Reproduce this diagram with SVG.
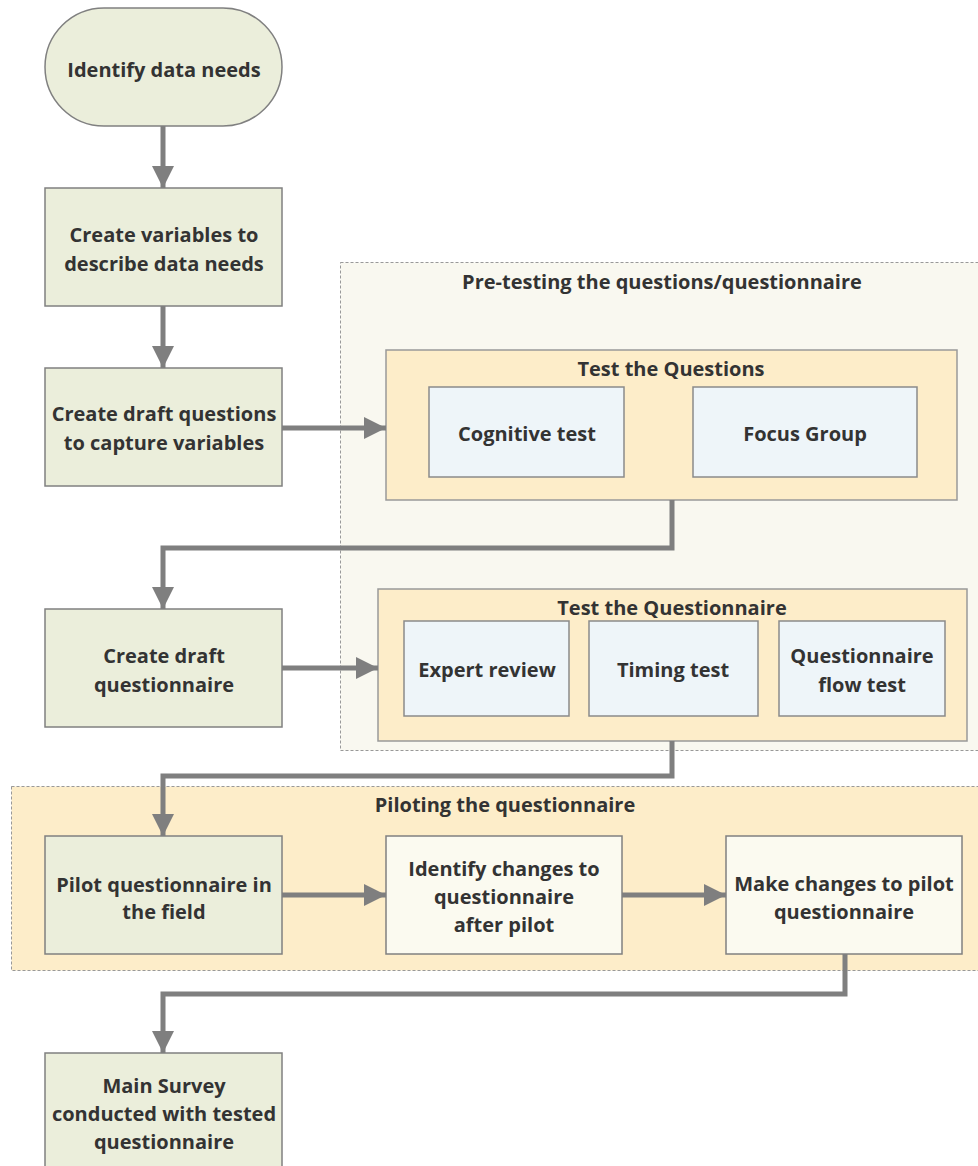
<svg xmlns="http://www.w3.org/2000/svg" width="978" height="1166" viewBox="0 0 978 1166">
<style>
text{font-family:"Open Sans","Noto Sans","Liberation Sans",sans-serif;font-weight:700;font-size:20px;fill:#333;text-anchor:middle}
.grn{fill:#ebeedb;stroke:#808080;stroke-width:1.5}
.blu{fill:#eef5f9;stroke:#8a8a8a;stroke-width:1.5}
.yel{fill:#fdedc9;stroke:#999;stroke-width:1.5}
.crm{fill:#fbfaf0;stroke:#808080;stroke-width:1.5}
.dash{stroke:#999;stroke-width:1;stroke-dasharray:3 2}
.c{fill:none;stroke:#7f7f7f;stroke-width:5}
</style>
<defs>
<marker id="ah" viewBox="0 0 10 10" refX="10" refY="5" markerWidth="4.4" markerHeight="4.4" orient="auto" markerUnits="strokeWidth">
<path d="M0,0 L10,5 L0,10 z" fill="#7f7f7f"/>
</marker>
</defs>
<rect width="978" height="1166" fill="#fff"/>
<g id="pretest">
<rect class="dash" x="340.5" y="262.5" width="640" height="488" fill="#f9f8f0"/>
<text x="662" y="289">Pre-testing the questions/questionnaire</text>
</g>
<g id="piloting">
<rect class="dash" x="11.5" y="786.5" width="970" height="184" fill="#fdedc9"/>
<text x="505" y="812">Piloting the questionnaire</text>
</g>
<g id="testq">
<rect class="yel" x="386" y="350" width="571" height="150"/>
<text x="671" y="376">Test the Questions</text>
</g>
<g id="cognitive"><rect class="blu" x="429" y="387" width="195" height="90"/><text x="527" y="441">Cognitive test</text></g>
<g id="focus"><rect class="blu" x="693" y="387" width="224" height="90"/><text x="805" y="441">Focus Group</text></g>
<g id="testqn">
<rect class="yel" x="378" y="589" width="589" height="152"/>
<text x="672" y="615">Test the Questionnaire</text>
</g>
<g id="expert"><rect class="blu" x="404" y="621" width="165" height="95"/><text x="487" y="677">Expert review</text></g>
<g id="timing"><rect class="blu" x="589" y="621" width="169" height="95"/><text x="673" y="677">Timing test</text></g>
<g id="flow"><rect class="blu" x="779" y="621" width="166" height="95"/><text x="862" y="663">Questionnaire</text><text x="862" y="692">flow test</text></g>
<g id="start"><rect class="grn" x="45" y="8" width="237" height="118" rx="59" ry="59"/><text x="164" y="77">Identify data needs</text></g>
<g id="variables"><rect class="grn" x="45" y="188" width="237" height="118"/><text x="164" y="242">Create variables to</text><text x="164" y="271">describe data needs</text></g>
<g id="draftq"><rect class="grn" x="45" y="368" width="237" height="118"/><text x="164" y="421">Create draft questions</text><text x="164" y="450">to capture variables</text></g>
<g id="draftqn"><rect class="grn" x="45" y="609" width="237" height="118"/><text x="164" y="663">Create draft</text><text x="164" y="692">questionnaire</text></g>
<g id="pilot"><rect class="grn" x="45" y="836" width="237" height="118"/><text x="164" y="892">Pilot questionnaire in</text><text x="164" y="919">the field</text></g>
<g id="identify"><rect class="crm" x="386" y="836" width="236" height="118"/><text x="504" y="876">Identify changes to</text><text x="504" y="904">questionnaire</text><text x="504" y="932">after pilot</text></g>
<g id="make"><rect class="crm" x="726" y="836" width="236" height="118"/><text x="844" y="891">Make changes to pilot</text><text x="844" y="919">questionnaire</text></g>
<g id="main"><rect class="grn" x="45" y="1053" width="237" height="118"/><text x="164" y="1093">Main Survey</text><text x="164" y="1121">conducted with tested</text><text x="164" y="1149">questionnaire</text></g>
<g id="connectors">
<path class="c" d="M163,126 V188" marker-end="url(#ah)"/>
<path class="c" d="M163,306 V368" marker-end="url(#ah)"/>
<path class="c" d="M282,428 H386" marker-end="url(#ah)"/>
<path class="c" d="M672,500 V548 H163 V609" marker-end="url(#ah)"/>
<path class="c" d="M282,668 H378" marker-end="url(#ah)"/>
<path class="c" d="M672,741 V776 H163 V836" marker-end="url(#ah)"/>
<path class="c" d="M282,895 H386" marker-end="url(#ah)"/>
<path class="c" d="M622,895 H726" marker-end="url(#ah)"/>
<path class="c" d="M845,954 V994 H163 V1053" marker-end="url(#ah)"/>
</g>
</svg>
